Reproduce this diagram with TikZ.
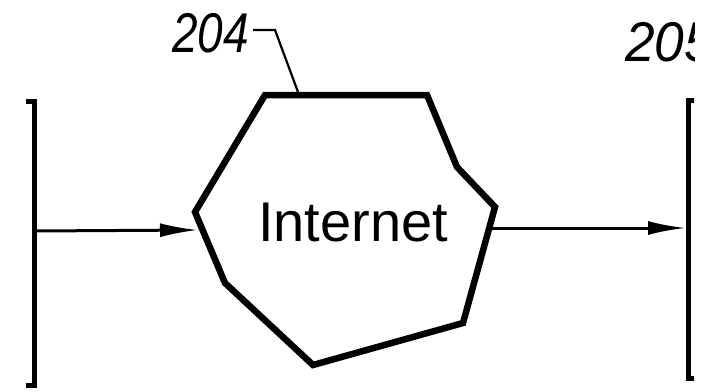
\documentclass[tikz,border=0pt]{standalone}
\usepackage{fontspec}
\setmainfont{Liberation Sans}
\usetikzlibrary{arrows.meta,positioning,calc}

\begin{document}
\begin{tikzpicture}[
x=1pt, y=-1pt, >={Latex[length=38pt,width=14pt]},
cloud-edge/.style = {line width=6.5pt, line join=miter},
bracket/.style = {line width=5pt},
link/.style = {->, line width=3pt},
leader/.style = {line width=2.2pt},
ref-label/.style = {font=\fontsize{56}{60}\selectfont\itshape, inner sep=0pt, anchor=south west}
]
\useasboundingbox (0,0) rectangle (719,391);
\clip (0,0) rectangle (694,391);

% internet cloud
\coordinate (c1) at (265,95);
\coordinate (c2) at (427,95);
\coordinate (c3) at (457,167);
\coordinate (c4) at (495,207);
\coordinate (c5) at (463,323);
\coordinate (c6) at (313,365);
\coordinate (c7) at (225,283);
\coordinate (c8) at (195,212);
\draw[cloud-edge] (c1) -- (c2) -- (c3) -- (c4) -- (c5) -- (c6) -- (c7) -- (c8) -- cycle;
\node [inner sep=0pt, font=\fontsize{56}{60}\selectfont] (inet) at (353,223) {Internet};

% brackets
\draw[bracket] (26,101) -- (34,101) -- (34,385) -- (26,385);
\draw[bracket] (725,100) -- (688,100) -- (688,378) -- (725,378);
\coordinate (src) at (34,231);
\coordinate (dst) at (686,228);
\coordinate (in) at (198,230);
\coordinate (out) at (490,228);

% labels
\node [ref-label] (lbl204) at (172,53) {\scalebox{0.82}[1]{204}};
\node [ref-label] (lbl205) at (625,62) {\scalebox{0.95}[1]{205}};
\coordinate (knee) at (275,30);
\coordinate (tip) at (298,92);
\draw[leader] ([xshift=4pt]lbl204.east |- knee) -- (knee) -- (tip);

% arrows
\draw[link] (src) -- (in);
\draw[link] (out) -- (dst);

\end{tikzpicture}
\end{document}
